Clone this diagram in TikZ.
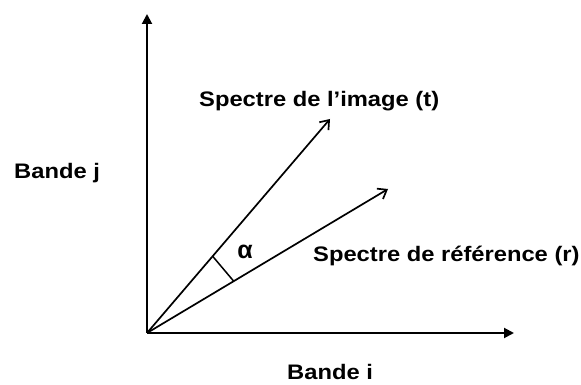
\documentclass[tikz,border=0pt]{standalone}
\usepackage{fontspec}
\setmainfont{Liberation Sans}
\newfontfamily\lblfont[FakeStretch=1.13]{Liberation Sans}
\usetikzlibrary{arrows.meta,calc}
\begin{document}
\begin{tikzpicture}[x=1pt,y=1pt,
  axis/.style={line width=2pt,-{Triangle[length=10pt,width=10pt]}},
  vec/.style={line width=1.7pt,-{Straight Barb[length=8pt,width=12pt,line width=1.7pt]}},
  lbl/.style={font=\lblfont\fontsize{21}{24}\selectfont\bfseries,inner sep=0pt},
  anglemark/.style={line width=1.5pt}]
\useasboundingbox (0,0) rectangle (581,385);
\coordinate (O) at (147,52);
\coordinate (Y) at (147,371);
\coordinate (X) at (514,52);
\coordinate (T) at (330,266);
\coordinate (R) at (388,196);
\draw[axis] (O) -- (Y);
\draw[axis] (O) -- (X);
\draw[vec] (O) -- (T);
\draw[vec] (O) -- (R);
\coordinate (A) at ($(O)!101pt!(T)$);
\coordinate (B) at ($(O)!101pt!(R)$);
\draw[anglemark] (A) -- (B);
\node[lbl,anchor=base west] (bj) at (14,206) {Bande j};
\node[lbl,anchor=base west] (bi) at (287,5) {Bande i};
\node[lbl,anchor=base west] (st) at (199,278) {Spectre de l’image (t)};
\node[lbl,anchor=base west] (sr) at (313,123) {Spectre de référence (r)};
\node[font=\fontsize{25}{28}\selectfont\bfseries,inner sep=0pt] (al) at (245,133) {α};
\end{tikzpicture}
\end{document}
